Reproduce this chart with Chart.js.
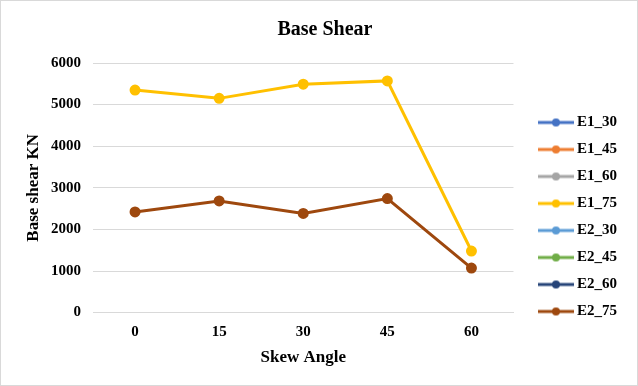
<!DOCTYPE html>
<html>
<head>
<meta charset="utf-8">
<script src="https://cdn.jsdelivr.net/npm/chart.js@4.4.1/dist/chart.umd.min.js"></script>
<style>
    html, body { margin: 0; padding: 0; background: #fff; }
    #wrap { width: 638px; height: 386px; box-sizing: border-box; border: 1px solid #d9d9d9; }
</style>
</head>
<body>
<div id="wrap"><canvas id="baseShearChart" width="636" height="384"></canvas></div>
<script>
const skewAngles = ['0', '15', '30', '45', '60'];
const seriesNames = ['E1_30', 'E1_45', 'E1_60', 'E1_75', 'E2_30', 'E2_45', 'E2_60', 'E2_75'];
const seriesColors = ['#4472C4', '#ED7D31', '#A5A5A5', '#FFC000', '#5B9BD5', '#70AD47', '#264478', '#9E480E'];
// only the 75 series carry values in the picture
const e1_75 = [5350, 5150, 5490, 5570, 1480];
const e2_75 = [2420, 2685, 2385, 2740, 1070];
const yTicks = [0, 1000, 2000, 3000, 4000, 5000, 6000];

const seriesValues = {
    E1_30: [], E1_45: [], E1_60: [], E1_75: e1_75,
    E2_30: [], E2_45: [], E2_60: [], E2_75: e2_75
};

const serif = "'Liberation Serif', 'Times New Roman', serif";

// legend marker: short line with a dot, drawn on the right part of the image
function legendIcon(color) {
    const c = document.createElement('canvas');
    c.width = 53;
    c.height = 10;
    const g = c.getContext('2d');
    g.strokeStyle = color;
    g.lineWidth = 3;
    g.beginPath();
    g.moveTo(17, 5);
    g.lineTo(53, 5);
    g.stroke();
    g.fillStyle = color;
    g.beginPath();
    g.arc(35, 5, 4, 0, Math.PI * 2);
    g.fill();
    return c;
}

const datasets = seriesNames.map((name, i) => ({
    label: name,
    data: seriesValues[name],
    borderColor: seriesColors[i],
    backgroundColor: seriesColors[i],
    borderWidth: 3,
    pointRadius: 4,
    pointHoverRadius: 4,
    pointStyle: 'circle',
    tension: 0,
    fill: false
}));

new Chart(document.getElementById('baseShearChart').getContext('2d'), {
    type: 'line',
    data: { labels: skewAngles, datasets: datasets },
    options: {
        responsive: false,
        animation: false,
        layout: { padding: { left: 22, right: 10, top: 9, bottom: 9 } },
        plugins: {
            title: {
                display: true,
                text: 'Base Shear',
                color: '#000',
                font: { family: serif, size: 20, weight: 'bold' },
                padding: { top: 8, bottom: 21 }
            },
            legend: {
                position: 'right',
                title: { display: true, text: ' ', font: { size: 15 }, padding: { top: 30, bottom: 0 } },
                labels: {
                    color: '#000',
                    font: { family: serif, size: 15, weight: 'bold' },
                    usePointStyle: true,
                    pointStyleWidth: 44,
                    padding: 12,
                    generateLabels: (chart) => chart.data.datasets.map((ds, i) => ({
                        text: ds.label,
                        fillStyle: ds.borderColor,
                        strokeStyle: ds.borderColor,
                        fontColor: '#000',
                        pointStyle: legendIcon(ds.borderColor),
                        hidden: false,
                        datasetIndex: i
                    }))
                }
            },
            tooltip: { enabled: false }
        },
        scales: {
            x: {
                offset: true,
                grid: { display: false, drawTicks: false },
                border: { display: true, color: '#d9d9d9', width: 1 },
                ticks: { color: '#000', font: { family: serif, size: 15, weight: 'bold' }, padding: 11 },
                title: {
                    display: true,
                    text: 'Skew Angle',
                    color: '#000',
                    font: { family: serif, size: 17, weight: 'bold' },
                    padding: { top: -5, bottom: 8 }
                }
            },
            y: {
                min: 0,
                max: 6000,
                afterBuildTicks: (axis) => { axis.ticks = yTicks.map(v => ({ value: v })); },
                afterFit: (axis) => { axis.width = 70; },
                grid: { color: '#d9d9d9', drawTicks: false },
                border: { display: false },
                ticks: {
                    color: '#000',
                    font: { family: serif, size: 15, weight: 'bold' },
                    padding: 12,
                    callback: (v) => String(v)
                },
                title: {
                    display: true,
                    text: 'Base shear KN',
                    color: '#000',
                    font: { family: serif, size: 17, weight: 'bold' },
                    padding: { top: 0, bottom: 6 }
                }
            }
        }
    }
});
</script>
</body>
</html>
